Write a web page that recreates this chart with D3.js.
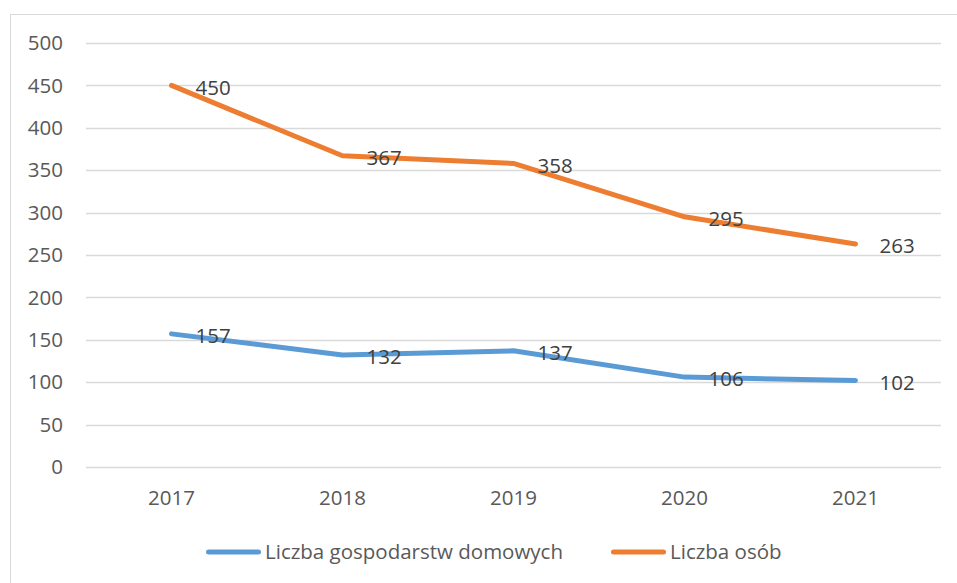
<!DOCTYPE html>
<meta charset="utf-8">
<style>
    body { margin: 0; background: #fff; }
    text { font-family: "Open Sans", "Noto Sans", sans-serif; }
    .grid line { stroke: #d9d9d9; stroke-width: 1.3; }
    .axis text { fill: #595959; font-size: 20.5px; }
    .label { fill: #404040; font-size: 20.5px; }
    .legend text { fill: #595959; font-size: 20.5px; }
</style>
<body>
<script src="https://d3js.org/d3.v7.min.js"></script>
<script>
    var years = ["2017", "2018", "2019", "2020", "2021"];
    var households = [157, 132, 137, 106, 102];
    var persons = [450, 367, 358, 295, 263];
    var yTicks = [0, 50, 100, 150, 200, 250, 300, 350, 400, 450, 500];
    var seriesNames = ["Liczba gospodarstw domowych", "Liczba osób"];
    var seriesColors = ["#5b9bd5", "#ed7d31"];

    var width = 957, height = 583;
    var plotLeft = 86, plotRight = 941, plotTop = 43, plotBottom = 467;

    var svg = d3.select("body").append("svg")
        .attr("width", width)
        .attr("height", height);

    // chart frame
    svg.append("rect")
        .attr("x", 10.5).attr("y", 14.5)
        .attr("width", 960).attr("height", 600)
        .attr("fill", "none")
        .attr("stroke", "#d9d9d9");

    var x = d3.scalePoint()
        .domain(years)
        .range([plotLeft, plotRight])
        .padding(0.5);
    var y = d3.scaleLinear()
        .domain([0, 500])
        .range([plotBottom, plotTop]);

    svg.append("g")
        .attr("class", "grid")
        .selectAll("line")
        .data(yTicks)
        .enter().append("line")
        .attr("x1", plotLeft).attr("x2", plotRight)
        .attr("y1", function(d) { return Math.round(y(d)) + 0.5; })
        .attr("y2", function(d) { return Math.round(y(d)) + 0.5; });

    svg.append("g")
        .attr("class", "axis")
        .selectAll("text")
        .data(yTicks)
        .enter().append("text")
        .attr("x", 63)
        .attr("y", function(d) { return y(d); })
        .attr("dy", "0.35em")
        .attr("text-anchor", "end")
        .text(function(d) { return d; });

    svg.append("g")
        .attr("class", "axis")
        .selectAll("text")
        .data(years)
        .enter().append("text")
        .attr("x", function(d) { return x(d); })
        .attr("y", 498)
        .attr("dy", "0.35em")
        .attr("text-anchor", "middle")
        .text(function(d) { return d; });

    var series = [households, persons];
    var line = d3.line()
        .x(function(d, i) { return x(years[i]); })
        .y(function(d) { return y(d); });

    series.forEach(function(values, s) {
        svg.append("path")
            .datum(values)
            .attr("d", line)
            .attr("fill", "none")
            .attr("stroke", seriesColors[s])
            .attr("stroke-width", 5)
            .attr("stroke-linecap", "round")
            .attr("stroke-linejoin", "round");

        svg.append("g")
            .selectAll("text")
            .data(values)
            .enter().append("text")
            .attr("class", "label")
            .attr("x", function(d, i) { return x(years[i]) + 24; })
            .attr("y", function(d) { return y(d) + 2; })
            .attr("dy", "0.35em")
            .text(function(d) { return d; });
    });

    // legend: swatch line then name
    var legendX = [206, 611];
    var legend = svg.append("g").attr("class", "legend");
    seriesNames.forEach(function(name, i) {
        legend.append("line")
            .attr("x1", legendX[i] + 2.5).attr("x2", legendX[i] + 52.5)
            .attr("y1", 552).attr("y2", 552)
            .attr("stroke", seriesColors[i])
            .attr("stroke-width", 5)
            .attr("stroke-linecap", "round");
        legend.append("text")
            .attr("x", legendX[i] + 59)
            .attr("y", 552)
            .attr("dy", "0.35em")
            .text(name);
    });
</script>
</body>
